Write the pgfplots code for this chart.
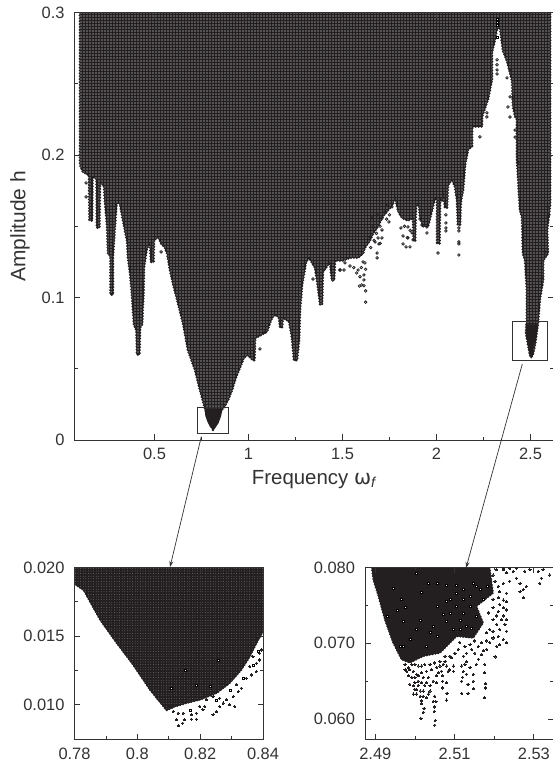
\documentclass[border=0pt]{standalone}
\usepackage{pgfplots}
\pgfplotsset{compat=1.18}
\usepackage{fontspec}
\setmainfont{Liberation Sans}
\newfontfamily\dejavu{DejaVu Sans}
\usetikzlibrary{patterns.meta,arrows.meta}
\definecolor{ink}{HTML}{231F20}
\definecolor{axc}{HTML}{333333}
\pgfplotsset{
  every axis/.append style={
    scale only axis, anchor=south west, axis on top, clip=true,
    tick align=inside, axis line style={axc,line width=0.9bp},
    major tick length=5.5bp, minor tick length=3bp,
    every tick/.style={axc,line width=0.8bp},
    minor tick num=1, scaled ticks=false,
    tick label style={font=\fontsize{16.5}{18}\selectfont,text=axc},
    /pgf/number format/assume math mode=true,
    xticklabel style={yshift=-5bp},
    yticklabel style={xshift=-6.5bp},
  },
  beads/.style={preaction={draw=ink,line width=#1,line cap=round,dash pattern=on 0pt off 2.9bp}},
  pts/.style={only marks,mark=*,mark size=1.1bp,mark options={draw=ink,fill=ink,line width=0pt}},
  holes/.style={only marks,mark=square*,mark size=1bp,mark options={draw=none,fill=white}},
  rings/.style={only marks,mark=o,mark size=1.3bp,mark options={draw=ink,fill=white,line width=0.75bp}},
}
\begin{document}
\begin{tikzpicture}[x=1bp,y=1bp]
\useasboundingbox (0,0) rectangle (553,766);
% ---------- main panel
\begin{axis}[at={(74.5bp,326bp)},width=478.5bp,height=427.5bp,
  xmin=0.0745,xmax=2.6197,ymin=0,ymax=0.3,
  xtick={0.5,1,1.5,2,2.5},ytick={0,0.1,0.2,0.3},
  xlabel={Frequency {\dejavu ω}$_{\mathit{f}}$},ylabel={Amplitude h},
  xlabel style={font=\fontsize{20.5}{22}\selectfont,text=axc,yshift=-3bp},
  ylabel style={font=\fontsize{21}{22}\selectfont,text=axc,yshift=5bp},
  /pgf/number format/fixed]
\addplot[beads=3bp,draw=ink,line width=0.4bp,fill=ink,
  postaction={pattern={Dots[distance=3bp,radius=0.6bp]},pattern color=white}]
 coordinates {
(.104,.300)(.104,.193)(.120,.188)(.152,.186)(.154,.154)(.168,.154)(.170,.185)(.192,.183)
(.194,.149)(.207,.149)(.210,.180)(.231,.179)(.237,.166)(.247,.152)(.253,.131)(.266,.129)
(.266,.102)(.279,.102)(.279,.129)(.290,.151)(.298,.166)(.316,.166)(.327,.158)(.343,.147)
(.354,.140)(.359,.128)(.370,.117)(.380,.102)(.391,.081)(.404,.077)(.407,.060)(.420,.060)
(.423,.079)(.434,.081)(.442,.105)(.444,.121)(.460,.135)(.476,.138)(.481,.125)(.495,.125)
(.497,.140)(.519,.143)(.535,.138)(.556,.135)(.567,.131)(.583,.119)(.598,.110)(.625,.096)
(.652,.082)(.678,.063)(.716,.049)(.742,.035)(.763,.025)(.774,.020)(.795,.0133)(.811,.007)
(.827,.0112)(.848,.020)(.870,.023)(.891,.028)(.912,.035)(.933,.044)(.955,.051)(.976,.058)
(.997,.0597)(1.024,.056)(1.032,.056)(1.035,.0716)(1.056,.073)(1.098,.076)(1.125,.086)
(1.146,.088)(1.162,.086)(1.168,.079)(1.178,.079)(1.184,.086)(1.216,.083)(1.231,.072)
(1.242,.056)(1.258,.056)(1.269,.070)(1.274,.091)(1.285,.109)(1.306,.125)(1.322,.128)
(1.354,.121)(1.370,.107)(1.381,.095)(1.391,.095)(1.396,.118)(1.433,.125)(1.444,.112)
(1.455,.112)(1.460,.126)(1.503,.126)(1.540,.128)(1.583,.128)(1.609,.131)(1.619,.135)
(1.646,.140)(1.662,.145)(1.689,.150)(1.715,.157)(1.753,.163)(1.769,.166)(1.779,.171)
(1.795,.161)(1.816,.156)(1.848,.154)(1.875,.156)(1.878,.140)(1.886,.140)(1.891,.165)
(1.907,.165)(1.912,.157)(1.928,.150)(1.955,.150)(1.976,.161)(1.992,.170)(2.003,.170)
(2.003,.138)(2.016,.138)(2.019,.170)(2.029,.168)(2.034,.178)(2.045,.163)(2.056,.163)
(2.061,.179)(2.082,.183)(2.098,.178)(2.109,.168)(2.114,.151)(2.125,.151)(2.130,.168)
(2.141,.175)(2.152,.193)(2.168,.204)(2.189,.206)(2.189,.220)(2.242,.220)(2.242,.227)
(2.274,.239)(2.295,.253)(2.295,.272)(2.311,.281)(2.322,.289)(2.338,.289)(2.354,.273)
(2.375,.266)(2.402,.252)(2.407,.234)(2.418,.227)(2.428,.225)(2.428,.197)(2.444,.161)
(2.455,.157)(2.460,.131)(2.471,.126)(2.481,.105)(2.481,.084)(2.476,.075)(2.487,.067)
(2.497,.060)(2.503,.058)(2.513,.060)(2.524,.067)(2.535,.077)(2.540,.083)(2.551,.100)
(2.567,.112)(2.567,.126)(2.593,.131)(2.588,.147)(2.598,.158)(2.604,.165)(2.604,.300)
} -- cycle;
% solid black tongues at the two minima
\addplot[draw=ink,fill=ink,line width=1bp] coordinates {(.769,.0218)(.773,.017)(.785,.0126)(.797,.0095)(.811,.0075)(.825,.0095)(.838,.0119)(.852,.017)(.859,.0218)} -- cycle;
\addplot[draw=ink,fill=ink,line width=1bp] coordinates {(2.476,.0807)(2.479,.074)(2.487,.068)(2.495,.061)(2.503,.058)(2.509,.061)(2.513,.065)(2.528,.073)(2.540,.0807)} -- cycle;
% isolated points
\addplot[rings] coordinates {
(1.623,.1198)(1.614,.1158)(1.614,.1123)(1.602,.1088)(1.614,.1083)(1.623,.1046)(1.623,.0967)
(1.583,.1193)(1.575,.1172)(1.593,.1146)(1.609,.125)(1.619,.1243)(1.513,.1243)(1.508,.1193)
(1.487,.1193)(1.540,.1221)(1.684,.1312)(1.684,.1278)(1.694,.1376)(1.673,.139)(1.710,.1418)
(1.689,.1418)(1.747,.153)(1.710,.1558)(1.726,.16)(1.763,.1636)(1.662,.1495)(1.657,.1558)
(1.710,.1474)(1.646,.1425)(1.684,.158)(1.811,.1488)(1.822,.1432)(1.822,.1376)(1.838,.1355)
(1.859,.1355)(1.848,.1418)(1.875,.1404)(1.870,.1453)(1.848,.1495)(1.923,.1509)(1.949,.1453)
(1.949,.1495)(1.912,.1551)(2.008,.1312)(2.050,.158)(2.050,.1523)(2.050,.1488)(2.050,.1467)
(2.119,.1488)(2.119,.1467)(2.119,.139)(2.119,.1376)(2.119,.1298)(1.061,.0639)(1.088,.0758)
(1.343,.113)(1.487,.1193)(.136,.1804)(.136,.1706)(.535,.132)(2.268,.2296)(2.268,.2267)
(2.231,.2127)(2.322,.2668)(2.322,.2633)(2.322,.2597)(2.322,.2569)(2.391,.2267)(2.391,.2597)
(2.375,.2541)(2.391,.2408)(2.407,.24)(2.380,.2337)(2.593,.1565)(2.418,.2175)(2.418,.2126)
(2.434,.195)(2.561,.1137)(2.577,.1319)(2.593,.1635)(2.598,.1579)
(1.65,.135)(1.668,.140)(1.70,.150)(1.735,.155)(1.74,.165)(1.75,.158)(1.68,.145)(1.70,.138)
(1.60,.121)(1.59,.108)(1.56,.121)(1.83,.150)(1.845,.142)(1.86,.147)
};
\addplot[holes] coordinates {(2.322,.2933)(2.322,.2912)(2.322,.2955)(2.322,.2825)};
\draw[axc,line width=0.8bp] (axis cs:.728,.0047) rectangle (axis cs:.895,.0229);
\draw[axc,line width=0.8bp] (axis cs:2.405,.0561) rectangle (axis cs:2.592,.0835);
\end{axis}
% ---------- lower-left inset
\begin{axis}[at={(74.5bp,26.5bp)},width=188.5bp,height=172bp,
  xmin=.78,xmax=.84,ymin=.00748,ymax=.02,
  xtick={.78,.8,.82,.84},ytick={.01,.015,.02},
  xticklabels={0.78,0.8,0.82,0.84},
  yticklabel style={/pgf/number format/fixed,/pgf/number format/fixed zerofill,/pgf/number format/precision=3}]
\addplot[beads=2.2bp,draw=ink,line width=.4bp,fill=ink,
  postaction={pattern={Dots[distance=2.6bp,radius=0.36bp]},pattern color=white!55!black}]
 coordinates {(.78,.02)(.78,.0188)(.7829,.01835)(.7881,.0162)(.7934,.0145)(.7987,.0129)(.804,.0111)
 (.8093,.0096)(.8120,.00988)(.8157,.01013)(.8199,.01037)(.8252,.01085)(.8294,.01158)(.8331,.01255)
 (.8358,.01351)(.8379,.01448)(.84,.01533)(.84,.02)} -- cycle;
\addplot[pts] coordinates {(.8104,.00988)(.8114,.00952)(.8130,.00940)(.8146,.00940)(.8125,.00892)
(.8130,.00848)(.8144,.00867)(.8151,.00892)(.8172,.00928)(.8172,.00896)(.8188,.00896)(.8188,.00940)
(.8209,.00964)(.8215,.00988)(.8241,.00928)(.8252,.00952)(.8262,.00988)(.8273,.01013)(.8294,.01001)
(.8310,.00988)(.8284,.01037)(.8305,.01061)(.8321,.01097)(.8331,.01122)(.8315,.01146)(.8347,.01194)
(.8363,.01218)(.8379,.01243)(.8358,.01279)(.8379,.01303)(.8389,.01327)(.8368,.01351)(.8389,.01376)
(.8395,.01400)(.8379,.01485)(.8389,.01509)(.8241,.01061)(.8262,.01049)(.8220,.01037)(.8199,.00988)};
\addplot[holes] coordinates {(.8167,.00964)(.8252,.01037)(.8294,.01109)(.8336,.01194)(.8368,.01291)
(.8384,.01388)(.8151,.01255)(.8188,.01146)(.8109,.01122)(.8257,.01327)(.8231,.01134)};
\end{axis}
% ---------- lower-right inset
\begin{axis}[at={(365bp,26.5bp)},width=188.3bp,height=172bp,
  xmin=2.4874,xmax=2.5349,ymin=.0573,ymax=.08,
  xtick={2.49,2.51,2.53},ytick={.06,.07,.08},
  xticklabel style={/pgf/number format/fixed,/pgf/number format/fixed zerofill,/pgf/number format/precision=2},
  yticklabel style={/pgf/number format/fixed,/pgf/number format/fixed zerofill,/pgf/number format/precision=3}]
\addplot[beads=2.2bp,draw=ink,line width=.4bp,fill=ink] coordinates {(2.4891,.08)(2.4895,.07838)(2.4908,.07619)(2.4924,.07312)
(2.4945,.07006)(2.4966,.06787)(2.4987,.06743)(2.5021,.0683)(2.5063,.06874)(2.5105,.07093)(2.5147,.07071)
(2.5172,.07269)(2.5155,.07488)(2.5197,.07663)(2.5189,.07969)(2.5189,.08)} -- cycle;
\addplot[pts] coordinates {
(2.5015,.0601)(2.5021,.0609)(2.5023,.0614)(2.5017,.0620)(2.5017,.0624)(2.5050,.0592)(2.5051,.0598)
(2.5049,.0610)(2.5049,.0616)(2.5046,.0623)(2.5053,.0623)(2.5050,.0630)(2.5080,.0625)(2.5081,.0634)
(2.5070,.0641)(2.5070,.0650)(2.5080,.0648)(2.5070,.0657)(2.5118,.0634)(2.5134,.0634)(2.5147,.0640)
(2.5176,.0628)(2.5178,.0641)(2.5178,.0647)(2.5176,.0661)(2.5176,.0672)(2.5118,.0650)(2.5120,.0655)
(2.5134,.0646)(2.5147,.0650)(2.5147,.0659)(2.5130,.0659)(2.5122,.0663)(2.5118,.0670)(2.5126,.0672)
(2.5130,.0676)(2.5139,.0668)(2.5155,.0672)(2.5160,.0679)(2.5172,.0690)(2.5168,.0685)(2.5202,.0682)
(2.5206,.0696)(2.5214,.0698)(2.5231,.0701)(2.5223,.0705)(2.5231,.0716)(2.5227,.0725)(2.5231,.0731)
(2.5223,.0736)(2.5231,.0744)(2.5223,.0747)(2.5231,.0755)(2.5214,.0751)(2.5206,.0736)(2.5197,.0731)
(2.5189,.0718)(2.5197,.0707)(2.5181,.0703)(2.5189,.0701)(2.5214,.0718)(2.5206,.0725)
(2.4996,.0633)(2.5004,.0633)(2.5013,.0630)(2.5021,.0630)(2.5029,.0628)(2.5034,.0633)(2.5021,.0637)
(2.5004,.0639)(2.4996,.0644)(2.5000,.0648)(2.4987,.0646)(2.4983,.0657)(2.4992,.0655)(2.5008,.0650)
(2.5017,.0648)(2.5029,.0648)(2.5038,.0644)(2.5046,.0650)(2.5055,.0657)(2.5034,.0655)(2.4979,.0663)
(2.4987,.0665)(2.4996,.0663)(2.5004,.0659)(2.5017,.0661)(2.5029,.0663)(2.5042,.0665)(2.5055,.0668)
(2.5067,.0663)(2.5071,.0672)(2.5080,.0670)(2.5088,.0665)(2.5097,.0670)(2.5092,.0681)(2.5076,.0683)
(2.5197,.0790)(2.5206,.0797)(2.5223,.0797)(2.5231,.0793)(2.5248,.0795)(2.5256,.0786)(2.5265,.0779)
(2.5273,.0771)(2.5273,.0760)(2.5281,.0775)(2.5265,.0768)(2.5290,.0797)(2.5277,.0795)(2.5311,.0795)
(2.5323,.0797)(2.5319,.0786)(2.5315,.0779)(2.5340,.0790)(2.5223,.0779)(2.5239,.0782)(2.5210,.0775)
(2.5202,.0782)(2.5231,.0766)(2.5214,.0768)(2.5256,.0799)(2.5239,.0799)(2.5223,.0799)
(2.4975,.0672)(2.4983,.0668)(2.4992,.0672)(2.5,.0672)(2.5008,.0670)(2.5017,.0670)(2.5025,.0672)
(2.5038,.0672)(2.5050,.0674)(2.5063,.0676)(2.5076,.0676)(2.5088,.0683)(2.5101,.0687)(2.5109,.0692)
(2.5122,.0683)(2.5130,.0687)(2.5143,.0692)(2.5151,.0687)(2.5160,.0696)(2.5168,.0701)(2.5139,.0698)
(2.5126,.0696)(2.5113,.0701)(2.5151,.0703)(2.5181,.0692)(2.5197,.0716)(2.5210,.0709)(2.5181,.0714)
(2.5218,.0731)(2.5210,.0742)(2.5197,.0747)(2.5185,.0740)(2.5223,.0757)(2.5210,.0760)(2.5197,.0758)
(2.5059,.0661)(2.5063,.0670)(2.5084,.0663)(2.5097,.0663)(2.5,.0655)(2.5008,.0657)(2.5021,.0655)
(2.5025,.0644)(2.5038,.0637)(2.5008,.0644)(2.4975,.0665)(2.5,.0639)(2.5013,.0637)(2.5055,.0648)};
\addplot[holes] coordinates {
(2.4971,.0696)(2.4962,.0696)(2.5004,.0793)(2.5034,.0779)(2.5055,.0779)(2.5080,.0777)(2.5105,.0777)
(2.4945,.0773)(2.4966,.0758)(2.4954,.0744)(2.4929,.0736)(2.4975,.0747)(2.5017,.0768)(2.5088,.0758)
(2.5080,.0755)(2.5105,.0766)(2.5122,.0771)(2.5155,.0775)(2.5164,.0771)(2.5147,.0779)(2.5105,.0749)
(2.5088,.0740)(2.5122,.0740)(2.5139,.0749)(2.5130,.0722)(2.5143,.0720)(2.5046,.0722)(2.5004,.0718)
(2.5038,.0714)(2.5013,.0731)(2.5080,.0729)(2.5113,.0731)(2.4987,.0705)(2.5029,.0696)(2.5055,.0709)
(2.5097,.0718)(2.5155,.0736)(2.4971,.0729)(2.5122,.0758)(2.5139,.0762)(2.5172,.0758)(2.5181,.0775)
(2.5113,.0718)(2.5055,.0749)(2.5071,.0738)};
\end{axis}
% ---------- connector arrows
\draw[axc,line width=0.7bp,-{Stealth[length=6bp,width=4bp]}] (201.3,329.3) -- (170,199);
\draw[axc,line width=0.7bp,-{Stealth[length=6bp,width=4bp]}] (522.3,402) -- (466,198);
\end{tikzpicture}
\end{document}
